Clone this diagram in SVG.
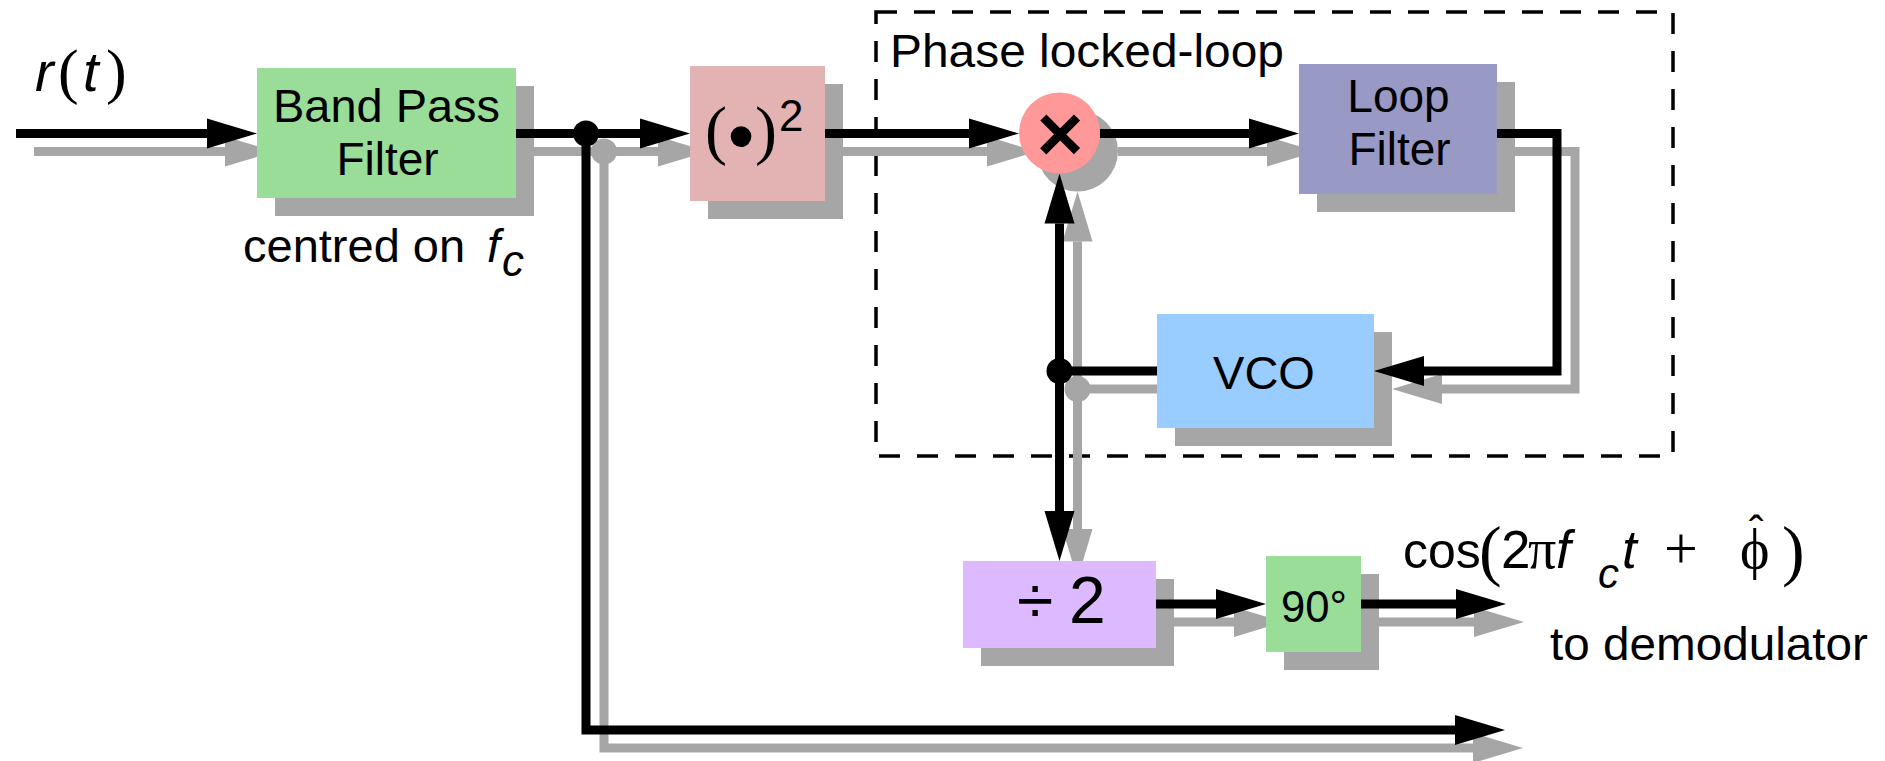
<svg xmlns="http://www.w3.org/2000/svg" width="1885" height="761" viewBox="0 0 1885 761">
<style>
.t{font-family:"Liberation Sans",Arial,sans-serif;fill:#000}
.s{font-family:"Liberation Serif","DejaVu Serif",serif}
.i{font-style:italic}
.sh{fill:#A6A6A6}
.bl{stroke:#000;stroke-width:9;fill:none;marker-end:url(#ab)}
.gl{stroke:#A6A6A6;stroke-width:9;fill:none;marker-end:url(#ag)}
.nm{marker-end:none}
.bpf{fill:#99DD99}
.sq{fill:#E3B3B3}
.mul{fill:#FF9999}
.lf{fill:#9999C6}
.vco{fill:#99CCFF}
.div{fill:#DDB9FF}
.ph{fill:#99DD99}
</style>
<defs>
<marker id="ab" markerUnits="userSpaceOnUse" markerWidth="50" markerHeight="30" refX="0" refY="15" orient="auto" overflow="visible"><path d="M0,0 L50,15 L0,30 z" fill="#000"/></marker>
<marker id="ag" markerUnits="userSpaceOnUse" markerWidth="50" markerHeight="30" refX="0" refY="15" orient="auto" overflow="visible"><path d="M0,0 L50,15 L0,30 z" fill="#A6A6A6"/></marker>
</defs>
<rect width="1885" height="761" fill="#fff"/>
<g id="pll-boundary">
<rect x="876" y="12" width="797" height="444" fill="none" stroke="#000" stroke-width="3.5" stroke-dasharray="21 17"/>
<text class="t" x="890" y="66.5" font-size="47" textLength="394" lengthAdjust="spacingAndGlyphs">Phase locked-loop</text>
</g>
<g id="shadows" class="sh">
<rect x="275" y="86" width="259" height="130"/>
<rect x="708" y="84" width="135" height="135"/>
<circle cx="1077.5" cy="151" r="40.5"/>
<rect x="1317" y="82" width="198" height="130"/>
<rect x="1175" y="332" width="217" height="114"/>
<rect x="981" y="579" width="193" height="87"/>
<rect x="1284" y="574" width="95" height="96"/>
</g>
<g id="connectors">
<g id="shadow-connectors">
<path class="gl" d="M34,151.5 H225"/>
<path class="gl" d="M534,151.5 H658"/>
<path class="gl" d="M843,151.5 H987"/>
<path class="gl" d="M1118,151.5 H1267"/>
<path class="gl" d="M1515,151.5 H1575 V389 H1442"/>
<path class="gl nm" d="M1175,389 H1077.5"/>
<path class="gl" d="M1077.5,389 V241.5"/>
<path class="gl" d="M1077.5,389 V529"/>
<path class="gl" d="M1174,622 H1234"/>
<path class="gl" d="M1379,622 H1474"/>
<path class="gl" d="M604,151.5 V748 H1473"/>
<circle cx="604" cy="151.5" r="13" fill="#A6A6A6"/>
<circle cx="1077.5" cy="389" r="13" fill="#A6A6A6"/>
</g>
<g id="main-connectors">
<path class="bl" d="M16,133.5 H207"/>
<path class="bl" d="M516,133.5 H640"/>
<path class="bl" d="M825,133.5 H969"/>
<path class="bl" d="M1100,133.5 H1249"/>
<path class="bl" d="M1497,133.5 H1557 V371 H1424"/>
<path class="bl nm" d="M1157,371 H1059.5"/>
<path class="bl" d="M1059.5,371 V223.5"/>
<path class="bl" d="M1059.5,371 V511"/>
<path class="bl" d="M1156,604 H1216"/>
<path class="bl" d="M1361,604 H1456"/>
<path class="bl" d="M586,133.5 V730 H1455"/>
<circle cx="586" cy="133.5" r="13" fill="#000"/>
<circle cx="1059.5" cy="371" r="13" fill="#000"/>
</g>
</g>
<g id="input-label">
<text class="t" font-size="56" y="91"><tspan x="35" class="i">r</tspan><tspan x="58" y="92" class="s" font-size="62">(</tspan><tspan x="83" y="91" class="i">t</tspan><tspan x="106" y="92" class="s" font-size="62">)</tspan></text>
</g>
<g id="band-pass-filter">
<rect class="bpf" x="257" y="68" width="259" height="130"/>
<text class="t" x="386.5" y="122" font-size="46" text-anchor="middle" textLength="227" lengthAdjust="spacingAndGlyphs">Band Pass</text>
<text class="t" x="387.5" y="175" font-size="46" text-anchor="middle">Filter</text>
<text class="t" font-size="47" y="261.5"><tspan x="243">centred on</tspan><tspan x="487" class="i">f</tspan><tspan x="502" y="276" class="i" font-size="44">c</tspan></text>
</g>
<g id="squarer">
<rect class="sq" x="690" y="66" width="135" height="135"/>
<text class="t s" font-size="66" y="152"><tspan x="705">(</tspan><tspan x="755">)</tspan></text>
<text class="t" x="741" y="162" font-size="76" text-anchor="middle">•</text>
<text class="t" x="779" y="131" font-size="44">2</text>
</g>
<g id="multiplier">
<circle class="mul" cx="1059.5" cy="133" r="40.5"/>
<text class="t" x="1060" y="161" font-size="80" font-weight="bold" text-anchor="middle">×</text>
</g>
<g id="loop-filter">
<rect class="lf" x="1299" y="64" width="198" height="130"/>
<text class="t" x="1398.5" y="111.5" font-size="46" text-anchor="middle">Loop</text>
<text class="t" x="1399.5" y="165" font-size="46" text-anchor="middle">Filter</text>
</g>
<g id="vco">
<rect class="vco" x="1157" y="314" width="217" height="114"/>
<text class="t" x="1264" y="389" font-size="47" text-anchor="middle">VCO</text>
</g>
<g id="divider">
<rect class="div" x="963" y="561" width="193" height="87"/>
<text class="t" font-size="66" y="623"><tspan x="1017">÷</tspan><tspan x="1069">2</tspan></text>
</g>
<g id="phase-shift">
<rect class="ph" x="1266" y="556" width="95" height="96"/>
<text class="t" x="1281" y="621.5" font-size="45" textLength="66" lengthAdjust="spacingAndGlyphs">90°</text>
</g>
<g id="output-label">
<text class="t" font-size="53" y="568"><tspan x="1403" font-size="50">cos</tspan><tspan x="1479" y="573" class="s" font-size="68">(</tspan><tspan x="1501" y="568">2</tspan><tspan x="1528" class="s" font-size="56">π</tspan><tspan x="1556" class="i">f</tspan><tspan x="1598" y="588" class="i" font-size="42">c</tspan><tspan x="1622" y="568" class="i">t</tspan><tspan x="1664" class="s" font-size="60">+</tspan><tspan x="1740" class="s" font-size="56">ϕ</tspan><tspan x="1782" y="573" class="s" font-size="68">)</tspan></text>
<text class="t" x="1749" y="547" font-size="44">ˆ</text>
<text class="t" x="1550" y="660" font-size="47" textLength="318" lengthAdjust="spacingAndGlyphs">to demodulator</text>
</g>
</svg>
